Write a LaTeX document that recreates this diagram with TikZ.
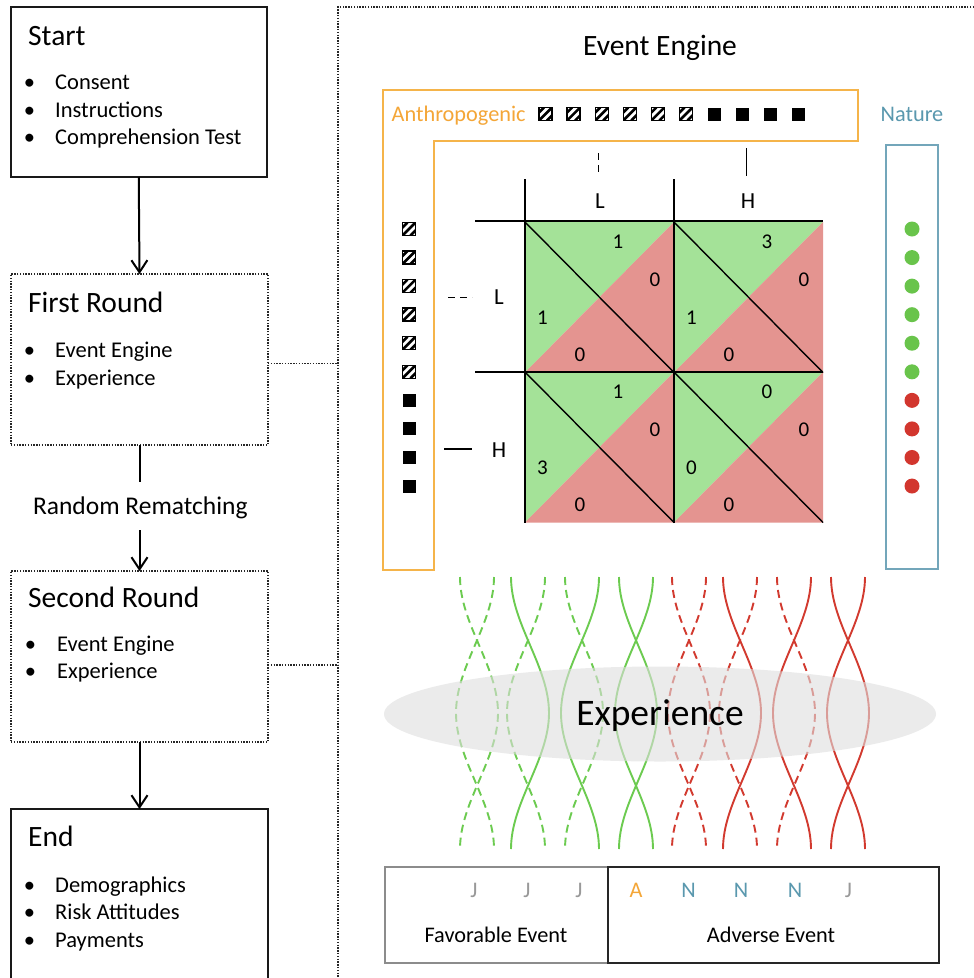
\documentclass[tikz,border=0pt]{standalone}
\usepackage{fontspec}
\setmainfont{Carlito}
\usetikzlibrary{arrows.meta}
\definecolor{anthro}{HTML}{F4A637}
\definecolor{anthroline}{HTML}{F5B44A}
\definecolor{naturetxt}{HTML}{5A98AE}
\definecolor{natureline}{HTML}{73A6BA}
\definecolor{cellg}{HTML}{A4E298}
\definecolor{cellr}{HTML}{E49490}
\definecolor{dotg}{HTML}{69C44B}
\definecolor{dotr}{HTML}{D2362E}
\definecolor{strg}{HTML}{6CCB50}
\definecolor{strr}{HTML}{D23A2F}
\definecolor{expfill}{HTML}{DEDEDE}
\definecolor{jgray}{HTML}{999999}
\newcommand\hatchsq[2]{%
  \begin{scope}
    \clip (#1-6.5,#2-6.5) rectangle (#1+6.5,#2+6.5);
    \fill[white] (#1-6.5,#2-6.5) rectangle (#1+6.5,#2+6.5);
    \draw[line width=2.6pt] (#1-14.5,#2+6.5) -- (#1-1.5,#2-6.5);
    \draw[line width=2.6pt] (#1-6.5,#2+6.5) -- (#1+6.5,#2-6.5);
    \draw[line width=2.6pt] (#1+1.5,#2+6.5) -- (#1+14.5,#2-6.5);
  \end{scope}
  \draw[line width=1.4pt] (#1-6.5,#2-6.5) rectangle (#1+6.5,#2+6.5);}
\newcommand\solidsq[2]{\fill[black] (#1-6.5,#2-6.5) rectangle (#1+6.5,#2+6.5);}
\newcommand\braidstrand[3]{%
  \draw[#3] (#1,577) .. controls (#1,624) and (#2,666) .. (#2,713)
    .. controls (#2,760) and (#1,802) .. (#1,849);}
\newcommand\braidpair[3]{%
  \pgfmathsetmacro\bR{#1+34}\pgfmathsetmacro\bA{#1+38}\pgfmathsetmacro\bB{#1-4}%
  \braidstrand{#1}{\bA}{#2}%
  \braidstrand{\bR}{\bB}{#3}}
\begin{document}
\begin{tikzpicture}[x=1pt,y=-1pt,
  solidbox/.style={draw=black!90, line width=2pt, inner sep=0pt, outer sep=0pt, anchor=north west},
  dotbox/.style={draw=black!85, line width=1.5pt, dash pattern=on 1.4pt off 1.4pt, inner sep=0pt, outer sep=0pt, anchor=north west},
  dotline/.style={draw=black!85, line width=1.5pt, dash pattern=on 1.4pt off 1.4pt},
  arr/.style={line width=2pt, -{Straight Barb[length=12pt,width=16pt]}},
  txt/.style={inner sep=0pt, anchor=base west},
  ttl/.style={txt, font=\fontsize{29.5}{34}\selectfont},
  itm/.style={txt, font=\fontsize{22.5}{26}\selectfont},
  bul/.style={inner sep=0pt, anchor=base, font=\fontsize{22.5}{26}\selectfont},
  lbl/.style={inner sep=0pt, anchor=base, font=\fontsize{22.3}{26}\selectfont},
  lh/.style={inner sep=0pt, anchor=base, font=\fontsize{23}{26}\selectfont},
  dig/.style={inner sep=0pt, anchor=base, font=\fontsize{21}{24}\selectfont},
  gline/.style={line width=2.2pt, black},
  diag/.style={line width=1.4pt, black},
  tick/.style={line width=1.7pt, black},
  gsol/.style={draw=strg, line width=1.9pt},
  gdash/.style={draw=strg, line width=1.9pt, dash pattern=on 8pt off 5pt},
  rsol/.style={draw=strr, line width=1.9pt},
  rdash/.style={draw=strr, line width=1.9pt, dash pattern=on 8pt off 5pt}
]
\useasboundingbox (0,0) rectangle (974,978);
\fill[white] (0,0) rectangle (974,978);

% ---------- left column ----------
\node[solidbox, minimum width=256.5pt, minimum height=170pt] (start) at (10.5,7) {};
\node[dotbox, minimum width=257pt, minimum height=171pt] (r1) at (11,274) {};
\node[dotbox, minimum width=257pt, minimum height=171pt] (r2) at (11,571) {};
\node[solidbox, minimum width=257pt, minimum height=190pt] (endb) at (11,809) {};

\node[ttl] (tStart) at (28,45) {Start};
\node[bul] (b11) at (29.5,89.5) {•};
\node[bul] (b12) at (29.5,117) {•};
\node[bul] (b13) at (29.5,144.5) {•};
\node[itm] (i11) at (55,89.5) {Consent};
\node[itm] (i12) at (55,117) {Instructions};
\node[itm] (i13) at (55,144.5) {Comprehension Test};

\node[ttl] (tR1) at (28,312) {First Round};
\node[bul] (b21) at (29.5,357) {•};
\node[bul] (b22) at (29.5,385) {•};
\node[itm] (i21) at (55,357) {Event Engine};
\node[itm] (i22) at (55,385) {Experience};

\node[inner sep=0pt, anchor=base, font=\fontsize{25.5}{30}\selectfont] (rm) at (140.3,514) {Random Rematching};

\node[ttl] (tR2) at (28,607.5) {Second Round};
\node[bul] (b31) at (30.5,651) {•};
\node[bul] (b32) at (30.5,678.5) {•};
\node[itm] (i31) at (57,651) {Event Engine};
\node[itm] (i32) at (57,678.5) {Experience};

\node[ttl] (tEnd) at (28,846) {End};
\node[bul] (b41) at (29.5,892) {•};
\node[bul] (b42) at (29.5,919.5) {•};
\node[bul] (b43) at (29.5,947) {•};
\node[itm] (i41) at (55,892) {Demographics};
\node[itm] (i42) at (55,919.5) {Risk Attitudes};
\node[itm] (i43) at (55,947) {Payments};

\coordinate (rmtop) at (139.5,482);
\coordinate (rmbot) at (139.5,530);
\draw[arr] (start.south) -- (r1.north);
\draw[line width=2pt] (r1.south) -- (rmtop);
\draw[arr] (rmbot) -- (r2.north);
\draw[arr] (r2.south) -- (endb.north);

% ---------- right frame ----------
\node[dotbox, minimum width=700pt, minimum height=1000pt] (frame) at (338,7) {};
\draw[dotline] ([yshift=-4pt]r1.east) -- ([yshift=-4pt]r1.east -| frame.west);
\draw[dotline] ([yshift=-8.5pt]r2.east) -- ([yshift=-8.5pt]r2.east -| frame.west);

\node[inner sep=0pt, anchor=base, font=\fontsize{29.5}{34}\selectfont] (tEE) at (660,55) {Event Engine};

% anthropogenic frame
\draw[anthroline, line width=2pt] (383,90) -- (858,90) -- (858,141) -- (434,141) -- (434,570) -- (383,570) -- cycle;
\node[txt, text=anthro, font=\fontsize{22.3}{26}\selectfont] (tAn) at (391.5,121.5) {Anthropogenic};
\foreach \i in {0,...,5}{\pgfmathsetmacro\xx{545.5+28.1*\i}\hatchsq{\xx}{114}}
\foreach \i in {6,...,9}{\pgfmathsetmacro\xx{545.5+28.1*\i}\solidsq{\xx}{114}}
\foreach \j in {0,...,5}{\pgfmathsetmacro\yy{229+28.56*\j}\hatchsq{409}{\yy}}
\foreach \j in {6,...,9}{\pgfmathsetmacro\yy{229+28.56*\j}\solidsq{409}{\yy}}

% nature
\draw[natureline, line width=2pt] (886,145) rectangle (938,569);
\node[lbl, text=naturetxt] (tNa) at (912,121.5) {Nature};
\foreach \j in {0,...,5}{\fill[dotg] (912,229+28.56*\j) circle[radius=7.5pt];}
\foreach \j in {6,...,9}{\fill[dotr] (912,229+28.56*\j) circle[radius=7.5pt];}

% matrix cells
\foreach \ox/\oy in {525/222, 674/222, 525/372, 674/372}{
  \fill[cellg] (\ox,\oy) -- (\ox+149,\oy) -- (\ox,\oy+150.5) -- cycle;
  \fill[cellr] (\ox+149,\oy) -- (\ox+149,\oy+150.5) -- (\ox,\oy+150.5) -- cycle;
  \draw[diag] (\ox,\oy) -- (\ox+149,\oy+150.5);
}
\draw[gline] (475,221) -- (823,221);
\draw[gline] (475,372) -- (823,372);
\draw[gline] (525,179) -- (525,523);
\draw[gline] (674,179) -- (674,523);

\foreach \ox/\oy/\a/\b/\c/\d [count=\k] in {525/222/1/0/1/0, 674/222/3/0/1/0, 525/372/1/0/3/0, 674/372/0/0/0/0}{
  \node[dig] (nt\k) at (\ox+93,\oy+26.6) {\a};
  \node[dig] (nr\k) at (\ox+130,\oy+64) {\b};
  \node[dig] (nl\k) at (\ox+17.5,\oy+102.5) {\c};
  \node[dig] (nb\k) at (\ox+55,\oy+139.5) {\d};
}

\node[lh] (hL) at (600,208.3) {L};
\node[lh] (hH) at (748,208.3) {H};
\node[lh] (vL) at (499,304) {L};
\node[lh] (vH) at (499,457) {H};
\draw[tick, dash pattern=on 7pt off 5pt] (598.5,153) -- (598.5,177);
\draw[tick] (746.5,148) -- (746.5,176);
\draw[tick, dash pattern=on 7pt off 5pt] (448,297.5) -- (472,297.5);
\draw[tick] (444,449) -- (472,449);

% ---------- braids ----------
\braidpair{460}{gdash}{gdash}
\braidpair{511}{gsol}{gdash}
\braidpair{565}{gdash}{gsol}
\braidpair{619}{gsol}{gsol}
\braidpair{672}{rdash}{rdash}
\braidpair{723}{rsol}{rdash}
\braidpair{777}{rdash}{rsol}
\braidpair{831}{rsol}{rsol}

\fill[expfill, fill opacity=0.6] (660,714) ellipse[x radius=276pt, y radius=47.5pt];
\node[inner sep=0pt, anchor=base, font=\fontsize{37.5}{42}\selectfont] (tExp) at (660,725) {Experience};

% ---------- bottom boxes ----------
\node[draw=black!45, line width=1.6pt, inner sep=0pt, anchor=north west, minimum width=223pt, minimum height=96pt] (fav) at (384,866) {};
\node[draw=black!85, line width=2pt, inner sep=0pt, anchor=north west, minimum width=331pt, minimum height=96pt] (adv) at (607,866) {};
\node[lbl, text=jgray] (j1) at (474,897.5) {J};
\node[lbl, text=jgray] (j2) at (527,897.5) {J};
\node[lbl, text=jgray] (j3) at (579,897.5) {J};
\node[lbl, text=anthro] (a1) at (636,897.5) {A};
\node[lbl, text=naturetxt] (n1) at (688.5,897.5) {N};
\node[lbl, text=naturetxt] (n2) at (741,897.5) {N};
\node[lbl, text=naturetxt] (n3) at (795,897.5) {N};
\node[lbl, text=jgray] (j4) at (848.5,897.5) {J};
\node[lbl] (tFav) at (496,942.3) {Favorable Event};
\node[lbl] (tAdv) at (771,942.3) {Adverse Event};
\end{tikzpicture}
\end{document}
